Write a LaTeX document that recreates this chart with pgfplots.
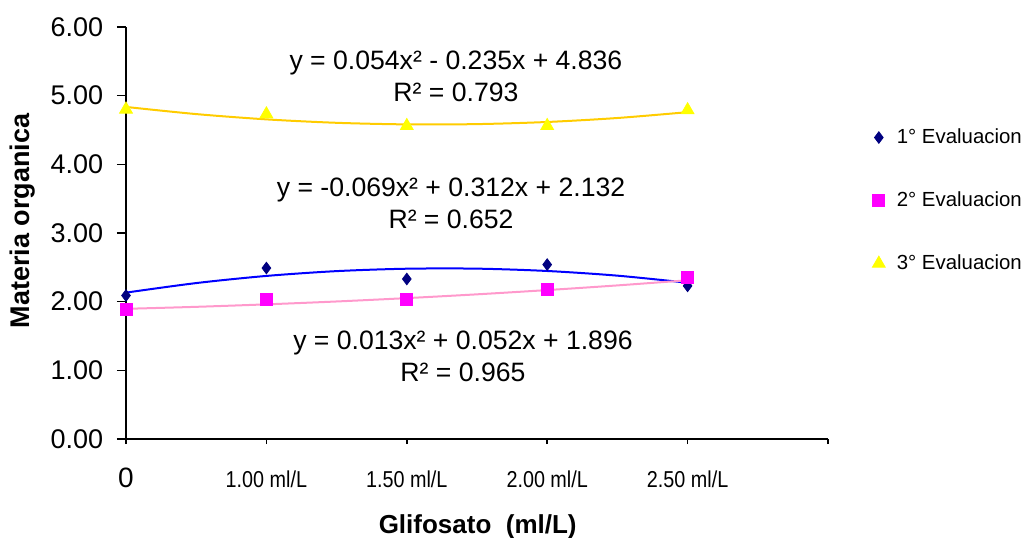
\documentclass[border=0pt]{standalone}
\usepackage{pgfplots}
\pgfplotsset{compat=1.18}
\usepackage{fontspec}
\setmainfont{Liberation Sans}
\usepackage{graphicx}
\definecolor{sone}{RGB}{0,0,128}
\definecolor{stwo}{RGB}{255,0,255}
\definecolor{sthree}{RGB}{255,255,0}
\definecolor{tone}{RGB}{0,0,255}
\definecolor{ttwo}{RGB}{255,153,204}
\definecolor{tthree}{RGB}{255,204,0}
\newcommand{\xl}[1]{\scalebox{0.86}[1]{\fontsize{11.5}{12}\selectfont #1}}
\begin{document}
\begin{tikzpicture}
\begin{axis}[
  scale only axis, width=351pt, height=206pt,
  at={(0,0)}, anchor=south west,
  xmin=0, xmax=5, ymin=0, ymax=6,
  axis lines*=left,
  axis line style={black, line width=0.75pt},
  tick align=outside,
  major tick style={black, line width=0.75pt},
  xtick={0,1,2,3,4,5},
  xticklabels={{\fontsize{14}{14}\selectfont 0},{\xl{1.00 ml/L}},{\xl{1.50 ml/L}},{\xl{2.00 ml/L}},{\xl{2.50 ml/L}},{}},
  xtick style={/pgfplots/major tick length=2.5pt},
  ytick style={/pgfplots/major tick length=4.5pt},
  ytick={0,1,2,3,4,5,6},
  yticklabels={0.00,1.00,2.00,3.00,4.00,5.00,6.00},
  yticklabel style={font=\fontsize{13.5}{14}\selectfont, anchor=east, inner sep=0pt, xshift=-7pt},
  xticklabel style={anchor=base, inner sep=0pt, yshift=-20pt},
  xlabel={\textbf{Glifosato\ \ (ml/L)}},
  xlabel style={font=\fontsize{13}{14}\selectfont, at={(axis description cs:0.501,-0.212)}, anchor=center},
  ylabel={\textbf{Materia organica}},
  ylabel style={font=\fontsize{13.5}{14}\selectfont, at={(axis description cs:-0.148,0.53)}, anchor=center, rotate=0},
  clip=false,
  legend style={draw=none, fill=none, inner sep=0pt, at={(axis description cs:1.0627,0.757)}, anchor=north west,
    font=\fontsize{10.2}{11}\selectfont, nodes={inner sep=0pt, text height=8pt, text depth=2pt, anchor=west}, row sep=21.5pt},
  legend cell align=left,
  legend image code/.code={\path[draw=none] (0pt,0pt) (12pt,0pt); \draw[#1] plot[only marks] coordinates {(3pt,0pt)};},
]
\addplot[only marks, mark=diamond*, mark size=2.9pt, color=sone] coordinates {(0,2.09)(1,2.49)(2,2.33)(3,2.54)(4,2.23)};
\addlegendentry{1° Evaluacion}
\addplot[only marks, mark=square*, mark size=3pt, color=stwo] coordinates {(0,1.89)(1,2.03)(2,2.03)(3,2.18)(4,2.35)};
\addlegendentry{2° Evaluacion}
\addplot[only marks, mark=triangle*, mark size=3.7pt, color=sthree] coordinates {(0,4.80)(1,4.73)(2,4.56)(3,4.56)(4,4.79)};
\addlegendentry{3° Evaluacion}
\addplot[forget plot, smooth, no marks, color=tone, line width=1pt] coordinates {(0,2.132)(0.5,2.271)(1,2.375)(1.5,2.445)(2,2.480)(2.5,2.481)(3,2.447)(3.5,2.379)(4,2.276)};
\addplot[forget plot, smooth, no marks, color=ttwo, line width=1pt] coordinates {(0,1.896)(0.5,1.925)(1,1.961)(1.5,2.003)(2,2.052)(2.5,2.107)(3,2.169)(3.5,2.237)(4,2.312)};
\addplot[forget plot, smooth, no marks, color=tthree, line width=1pt] coordinates {(0,4.836)(0.5,4.732)(1,4.655)(1.5,4.605)(2,4.582)(2.5,4.586)(3,4.617)(3.5,4.675)(4,4.760)};
\node[align=center, font=\fontsize{13.3}{16}\selectfont] at (axis cs:2.35,5.286) {y = 0.054x² - 0.235x + 4.836\\R² = 0.793};
\node[align=center, font=\fontsize{13.3}{16}\selectfont] at (axis cs:2.315,3.437) {y = -0.069x² + 0.312x + 2.132\\R² = 0.652};
\node[align=center, font=\fontsize{13.3}{16}\selectfont] at (axis cs:2.40,1.209) {y = 0.013x² + 0.052x + 1.896\\R² = 0.965};
\end{axis}
\pgfresetboundingbox
\path[use as bounding box] (-63pt,-49pt) rectangle (450pt,219.5pt);
\end{tikzpicture}
\end{document}
